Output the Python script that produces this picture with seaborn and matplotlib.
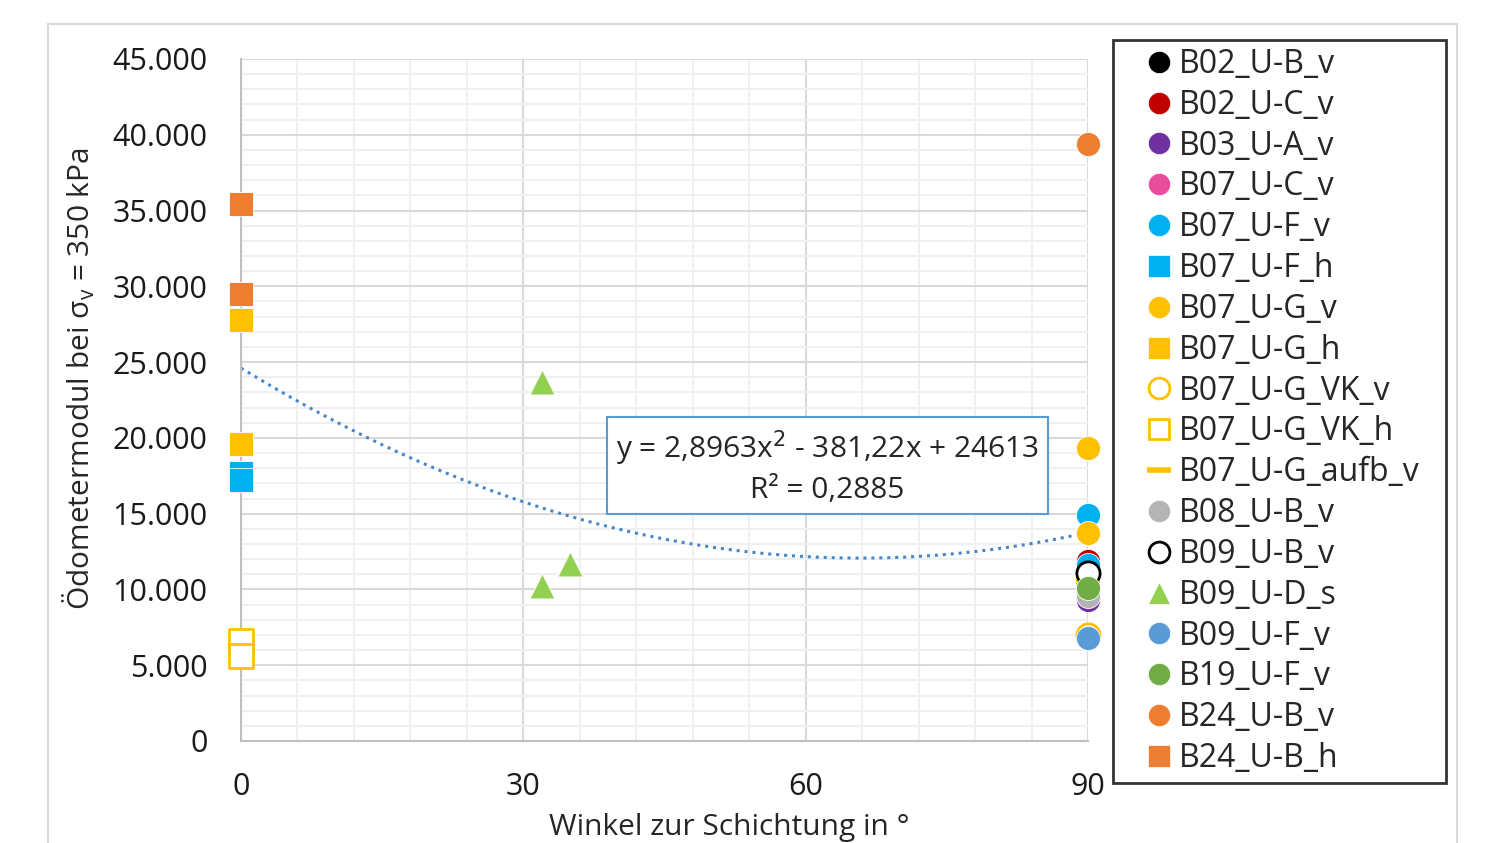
import numpy as np
import pandas as pd
import matplotlib
matplotlib.use("Agg")
import matplotlib.pyplot as plt
from matplotlib.patches import Rectangle
from matplotlib.lines import Line2D
from matplotlib.ticker import MultipleLocator, FuncFormatter
import seaborn as sns

# Data (angle in degrees, modulus in kPa)
names = ["B02_U-B_v", "B02_U-C_v", "B03_U-A_v", "B07_U-C_v", "B07_U-F_v", "B07_U-F_h",
         "B07_U-G_v", "B07_U-G_h", "B07_U-G_VK_v", "B07_U-G_VK_h", "B07_U-G_aufb_v",
         "B08_U-B_v", "B09_U-B_v", "B09_U-D_s", "B09_U-F_v", "B19_U-F_v", "B24_U-B_v", "B24_U-B_h"]
x_vals = [[90], [90], [90], [90], [90, 90], [0, 0],
          [90, 90], [0, 0], [90], [0, 0], [90],
          [90], [90], [32, 32, 35], [90], [90], [90], [0, 0]]
y_vals = [[11300], [11900], [9300], [9800], [14900, 11600], [17700, 17200],
          [19300, 13700], [27800, 19600], [7000], [6600, 5600], [10500],
          [9600], [11100], [23700, 10200, 11700], [6800], [10100], [39400], [35400, 29500]]
colors = ["#000000", "#C00000", "#7030A0", "#E84C9B", "#00B0F0", "#00B0F0",
          "#FFC000", "#FFC000", "#FFC000", "#FFC000", "#FFC000",
          "#B4B4B4", "#000000", "#92D050", "#5B9BD5", "#70AD47", "#ED7D31", "#ED7D31"]
markers = ["o", "o", "o", "o", "o", "s", "o", "s", "o", "s", "_", "o", "o", "^", "o", "o", "o", "s"]
filled = [True] * 18
filled[8] = False
filled[9] = False
filled[12] = False

# quadratic trendline from the chart
coef = [2.8963, -381.22, 24613]

sns.set_style("white")
plt.rcParams["font.family"] = ["Open Sans", "DejaVu Sans"]

fig = plt.figure(figsize=(14.88, 8.43), dpi=100)
fig.patches.append(Rectangle((48 / 1488, -0.1), 1409 / 1488, 1.1 - 24 / 843, transform=fig.transFigure,
                             fill=False, edgecolor="#D9D9D9", linewidth=1.5))
ax = fig.add_axes([241 / 1488, 1 - 741 / 843, 847 / 1488, 682 / 843])

xt = np.linspace(0, 90, 200)
trend = pd.DataFrame({"x": xt, "y": np.polyval(coef, xt)})
sns.lineplot(data=trend, x="x", y="y", ax=ax, color="#4A86C8", linestyle=(0, (1, 1.6)),
             linewidth=2.2, zorder=2, legend=False)

# draw order: aufb first so the cluster at 90° covers it
order = [10] + [i for i in range(18) if i != 10]
for i in order:
    d = pd.DataFrame({"x": x_vals[i], "y": y_vals[i]})
    if markers[i] == "_":
        kw = dict(marker="_", s=300, color=colors[i], linewidth=4)
    elif filled[i]:
        kw = dict(marker=markers[i], s=300 if markers[i] != "^" else 320, color=colors[i],
                  edgecolor="white", linewidth=0.6)
    else:
        kw = dict(marker=markers[i], s=280, facecolor="white", edgecolor=colors[i], linewidth=2)
    sns.scatterplot(data=d, x="x", y="y", ax=ax, zorder=3, clip_on=False, legend=False, **kw)

leg_handles = []
for i in range(18):
    if markers[i] == "_":
        h = Line2D([], [], linestyle="none", marker="_", markersize=17, markeredgewidth=4, color=colors[i])
    elif filled[i]:
        h = Line2D([], [], linestyle="none", marker=markers[i], markersize=16, color=colors[i],
                   markeredgecolor="white", markeredgewidth=0.5)
    else:
        h = Line2D([], [], linestyle="none", marker=markers[i], markersize=15, markerfacecolor="white",
                   markeredgecolor=colors[i], markeredgewidth=2)
    leg_handles.append(h)

leg = fig.legend(leg_handles, names, loc="upper left", mode="expand",
                 bbox_to_anchor=(1113 / 1488, 1 - 781 / 843, 333 / 1488, 741 / 843), fontsize=23,
                 frameon=True, fancybox=False, handlelength=2.35, handletextpad=-0.55,
                 labelspacing=0.245, borderpad=0.25, borderaxespad=0)
leg.get_frame().set_edgecolor("black")
leg.get_frame().set_linewidth(2)

ax.text(62.3, 18100, "y = 2,8963x$^2$ - 381,22x + 24613\nR² = 0,2885", ha="center", va="center",
        fontsize=21.5, linespacing=1.35, zorder=4,
        bbox=dict(boxstyle="square,pad=0.3", facecolor="white", edgecolor="#5B9BD5", linewidth=1.5))

ax.set_xlim(0, 90)
ax.set_ylim(0, 45000)
ax.xaxis.set_major_locator(MultipleLocator(30))
ax.xaxis.set_minor_locator(MultipleLocator(6))
ax.yaxis.set_major_locator(MultipleLocator(5000))
ax.yaxis.set_minor_locator(MultipleLocator(1000))
ax.yaxis.set_major_formatter(FuncFormatter(lambda v, p: f"{int(v):,}".replace(",", ".")))
ax.grid(True, which="major", color="#D9D9D9", linewidth=1.5)
ax.grid(True, which="minor", color="#F0F0F0", linewidth=1.5)
ax.set_axisbelow(True)
for s in ["top", "right"]:
    ax.spines[s].set_visible(False)
for s in ["left", "bottom"]:
    ax.spines[s].set_color("#BFBFBF")
    ax.spines[s].set_linewidth(1.5)
ax.tick_params(axis="both", which="both", length=0, labelsize=22, colors="#1A1A1A")
ax.tick_params(axis="y", pad=24)
ax.tick_params(axis="x", pad=22)
ax.set_xlabel("Winkel zur Schichtung in °", fontsize=21.5)
ax.set_ylabel("Ödometermodul bei σ$_\\mathregular{v}$ = 350 kPa", fontsize=21.5)
ax.xaxis.set_label_coords((729 - 241) / 847, -0.105)
ax.yaxis.set_label_coords(-0.17, (741 - 379) / 682)

fig.savefig("out.png", dpi=100)
